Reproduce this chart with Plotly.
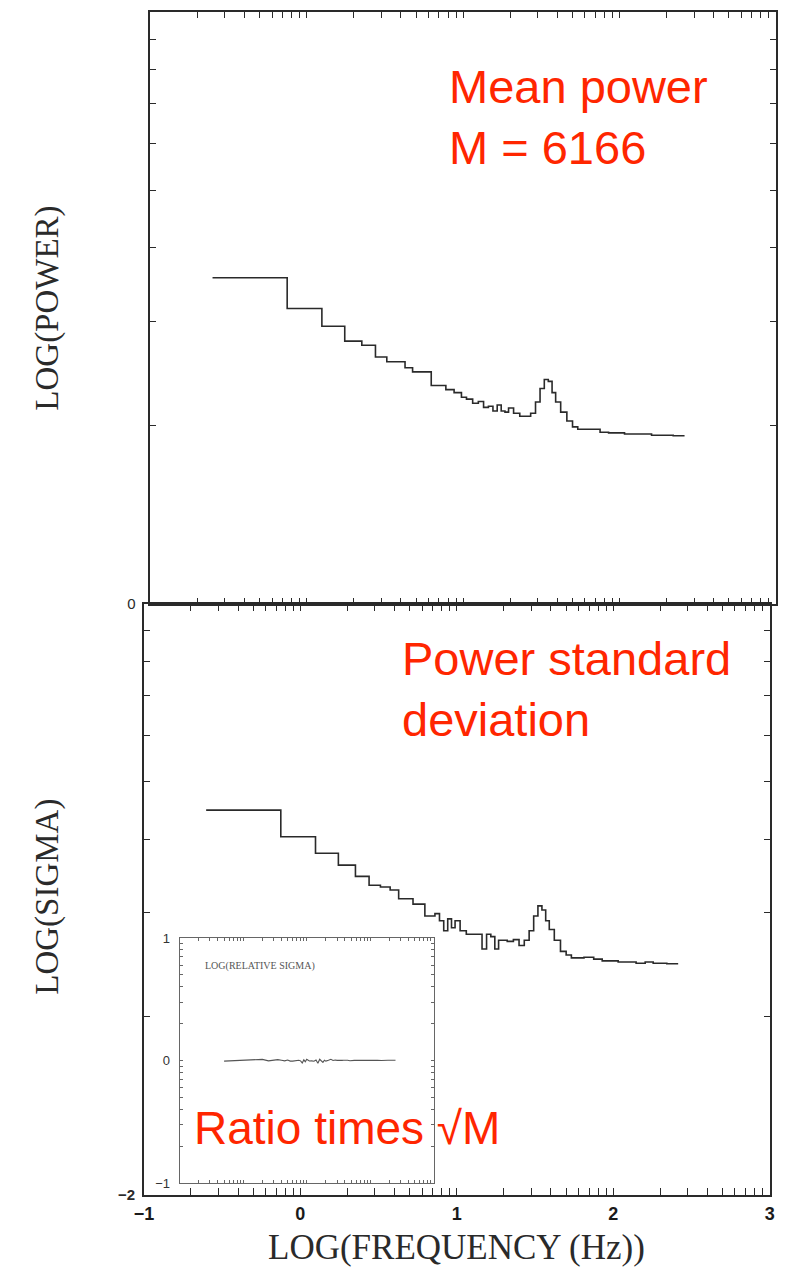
import numpy as np
import plotly.graph_objects as go

# Frequency bin centres (Hz)
freq_hz = [0.5, 1.0, 1.5, 2.0, 2.5, 3.0, 3.5, 4.0, 4.5, 5.0,
           5.5, 6.0, 6.5, 7.0, 7.5, 8.0, 8.5, 9.0, 9.5, 10,
           11, 12, 13, 14, 15, 16, 17, 18, 19, 20,
           22, 24, 26, 28, 30, 32, 34, 36, 38, 40,
           44, 48, 52, 56, 60, 70, 80, 90, 100, 115,
           130, 150, 170, 190, 210, 230, 250]

# log10 of mean power per bin
log_power = [0.551, 0.499, 0.469, 0.444, 0.437, 0.417, 0.409, 0.409, 0.399, 0.392,
             0.392, 0.392, 0.369, 0.369, 0.369, 0.362, 0.362, 0.357, 0.357, 0.349,
             0.346, 0.339, 0.342, 0.332, 0.334, 0.326, 0.336, 0.326, 0.324, 0.331,
             0.322, 0.317, 0.317, 0.322, 0.341, 0.364, 0.379, 0.376, 0.357, 0.341,
             0.324, 0.309, 0.299, 0.295, 0.295, 0.295, 0.290, 0.289, 0.289, 0.287,
             0.287, 0.287, 0.285, 0.285, 0.285, 0.284, 0.284]

# log10 of power standard deviation per bin
log_sigma = [-1.349, -1.394, -1.422, -1.442, -1.461, -1.476, -1.479, -1.484, -1.499, -1.499,
             -1.508, -1.508, -1.528, -1.528, -1.524, -1.536, -1.553, -1.533, -1.548, -1.536,
             -1.553, -1.559, -1.559, -1.559, -1.584, -1.559, -1.563, -1.584, -1.569, -1.569,
             -1.571, -1.568, -1.578, -1.569, -1.553, -1.528, -1.511, -1.518, -1.536, -1.551,
             -1.569, -1.588, -1.594, -1.599, -1.599, -1.598, -1.601, -1.604, -1.604, -1.606,
             -1.606, -1.608, -1.606, -1.608, -1.608, -1.609, -1.609]

M = 6166  # number of averaged spectra

INK = "#2a2a2a"
RED = "#ff2600"
SERIF = "Liberation Serif"
SANS = "Liberation Sans"

f = np.array(freq_hz, dtype=float)
# histogram bin edges from the bin centres
edges = np.concatenate([[f[0] - (f[1] - f[0]) / 2],
                        (f[:-1] + f[1:]) / 2,
                        [f[-1] + (f[-1] - f[-2]) / 2]])
x_edges = np.log10(edges)
x_centres = np.log10(f)


def stepped(vals):
    v = list(vals)
    return v + [v[-1]]


# relative sigma: sigma * sqrt(M) / power
log_rel = np.array(log_sigma) + 0.5 * np.log10(M) - np.array(log_power)

fig = go.Figure()
fig.add_trace(go.Scatter(x=x_edges, y=stepped(log_power), mode="lines", line_shape="hv",
                         line=dict(color=INK, width=1.6), xaxis="x", yaxis="y",
                         showlegend=False, hoverinfo="skip"))
fig.add_trace(go.Scatter(x=x_edges, y=stepped(log_sigma), mode="lines", line_shape="hv",
                         line=dict(color=INK, width=1.6), xaxis="x2", yaxis="y2",
                         showlegend=False, hoverinfo="skip"))
fig.add_trace(go.Scatter(x=x_centres, y=log_rel, mode="lines",
                         line=dict(color="#555555", width=1.1), xaxis="x3", yaxis="y3",
                         showlegend=False, hoverinfo="skip"))

W, H = 785, 1278


def px(xp):
    return xp / W


def py(yp):
    return (H - yp) / H


# tick positions: log-decade minor ticks
x_ticks = [float(np.log10(k * 10.0 ** d)) for d in range(-1, 3) for k in range(1, 10)] + [3.0]
x_text = {-1: "\u22121", 0: "0", 1: "1", 2: "2", 3: "3"}
x_labels = [x_text.get(int(round(t)), "") if abs(t - round(t)) < 1e-9 else "" for t in x_ticks]


def decade_ticks(lo, hi):
    return [float(d + np.log10(k)) for d in range(lo, hi) for k in range(1, 10)] + [float(hi)]


common_x = dict(range=[-1, 3], showgrid=False, zeroline=False, showline=True,
                linecolor=INK, linewidth=1.5, mirror="ticks", ticks="inside",
                tickcolor=INK, tickwidth=1.3, tickmode="array", tickvals=x_ticks)
common_y = dict(showgrid=False, zeroline=False, showline=True, linecolor=INK,
                linewidth=1.5, mirror="ticks", ticks="inside", tickcolor=INK,
                tickwidth=1.3, tickmode="array", ticklen=6)

y1_ticks = decade_ticks(0, 1)
y2_ticks = decade_ticks(-2, -1)
y3_ticks = decade_ticks(-1, 1)

fig.update_layout(
    width=W, height=H, margin=dict(l=0, r=0, t=0, b=0),
    paper_bgcolor="white", plot_bgcolor="white",
    xaxis=dict(common_x, domain=[px(143), px(781)], anchor="y", ticklen=6,
               showticklabels=False),
    yaxis=dict(common_y, domain=[py(604), py(5)], anchor="x", range=[0, 1],
               tickvals=y1_ticks, ticklabelstandoff=10,
               ticktext=["0" if abs(t) < 1e-9 else "" for t in y1_ticks],
               tickfont=dict(family=SANS, size=15, color=INK)),
    xaxis2=dict(common_x, domain=[px(136.5), px(774.5)], anchor="y2", ticklen=7,
                ticktext=x_labels, ticklabelstandoff=2,
                tickfont=dict(family=SANS, size=18, color="#1a1a1a", weight="bold")),
    yaxis2=dict(common_y, domain=[py(1202), py(604)], anchor="x2", range=[-2, -1],
                tickvals=y2_ticks, ticklabelstandoff=4,
                ticktext=["\u22122" if abs(t + 2) < 1e-9 else "" for t in y2_ticks],
                tickfont=dict(family=SANS, size=15, color=INK, weight="bold")),
    xaxis3=dict(common_x, domain=[px(173), px(432)], anchor="y3", ticklen=3,
                tickwidth=0.8, linewidth=1, linecolor="#666666", tickcolor="#666666",
                showticklabels=False),
    yaxis3=dict(common_y, domain=[py(1190), py(942)], anchor="x3", range=[-1, 1],
                ticklen=3, tickwidth=0.8, linewidth=1, linecolor="#666666",
                tickcolor="#666666", tickvals=y3_ticks, ticklabelstandoff=6,
                ticktext=[{-1: "\u22121", 0: "0", 1: "1"}.get(int(round(t)), "")
                          if abs(t - round(t)) < 1e-9 else "" for t in y3_ticks],
                tickfont=dict(family=SANS, size=13, color="#333333")),
)

annotations = [
    dict(text="LOG(POWER)", x=px(38), y=py(305), textangle=-90,
         font=dict(family=SERIF, size=33, color=INK)),
    dict(text="LOG(SIGMA)", x=px(38), y=py(900), textangle=-90,
         font=dict(family=SERIF, size=33, color=INK)),
    dict(text="LOG(FREQUENCY (Hz))", x=px(455), y=py(1255),
         font=dict(family=SERIF, size=35, color=INK)),
    dict(text="LOG(RELATIVE SIGMA)", x=px(197), y=py(970), xanchor="left",
         font=dict(family=SERIF, size=10, color="#555555")),
    dict(text="Mean power<br>M = 6166", x=px(446), y=py(111), xanchor="left",
         align="left", font=dict(family=SANS, size=47, color=RED)),
    dict(text="Power standard<br>deviation", x=px(398), y=py(690), xanchor="left",
         align="left", font=dict(family=SANS, size=47, color=RED)),
    dict(text="Ratio times \u221aM", x=px(186), y=py(1134), xanchor="left",
         font=dict(family=SANS, size=46, color=RED)),
]
for a in annotations:
    a.setdefault("xanchor", "center")
    a.update(xref="paper", yref="paper", showarrow=False, yanchor="middle")
fig.update_layout(annotations=annotations)

fig.write_html("out.html")
